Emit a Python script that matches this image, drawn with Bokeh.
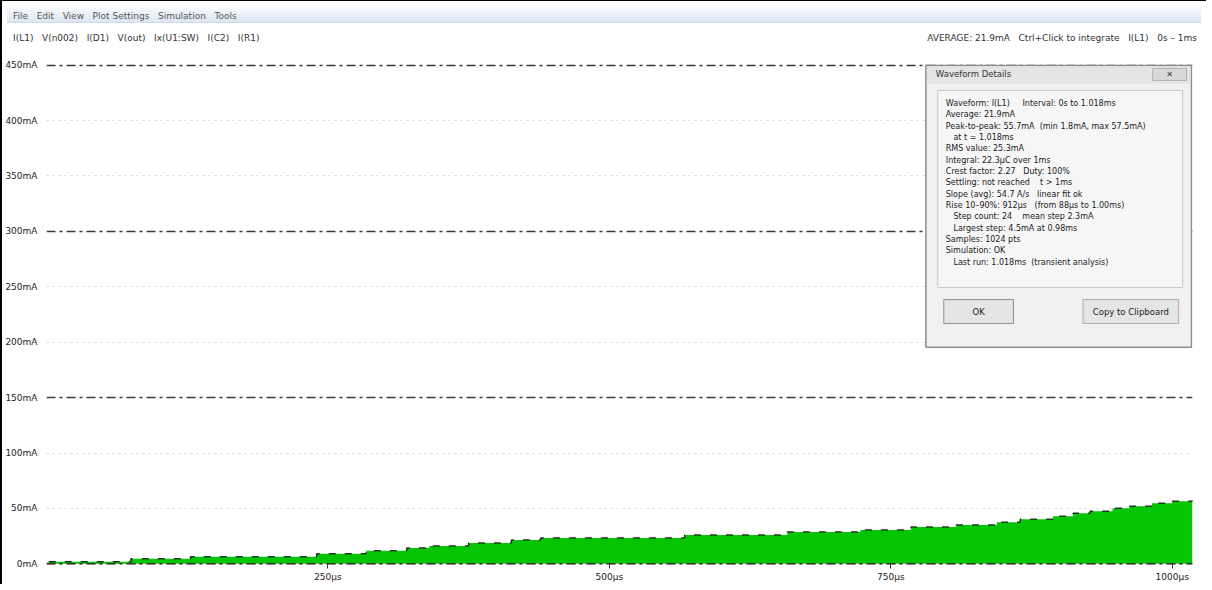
from bokeh.plotting import figure
from bokeh.models import (FixedTicker, Grid, BoxAnnotation, Label, Div, Range1d, Span)
from bokeh.layouts import column
from bokeh.embed import file_html
from bokeh.resources import INLINE

# ---- data ----
t_us = [2, 75, 128, 240, 284, 320, 340, 375, 413, 439, 567, 658, 723, 768,
        808, 844, 865, 894, 912, 927, 947, 962, 982, 1000, 1018]
i_mA = [1.8, 4.5, 6.3, 9.0, 11.7, 14.3, 16.1, 18.8, 21.5, 23.3, 26.0, 28.7,
        30.5, 33.2, 35.0, 37.6, 40.3, 43.0, 45.7, 47.5, 50.2, 52.0, 54.7, 56.5, 57.5]

y_ticks = [0, 50, 100, 150, 200, 250, 300, 350, 400, 450]
y_tick_labels = ["0mA", "50mA", "100mA", "150mA", "200mA", "250mA",
                 "300mA", "350mA", "400mA", "450mA"]
major_grid = [0, 150, 300, 450]
minor_grid = [50, 100, 200, 250, 350, 400]
x_ticks = [250, 500, 750, 1000]
x_tick_labels = ["250µs", "500µs", "750µs", "1000µs"]

menu_text = "File&nbsp;&nbsp;&nbsp;Edit&nbsp;&nbsp;&nbsp;View&nbsp;&nbsp;&nbsp;Plot Settings&nbsp;&nbsp;&nbsp;Simulation&nbsp;&nbsp;&nbsp;Tools"
trace_text = "I(L1)&nbsp;&nbsp;&nbsp;V(n002)&nbsp;&nbsp;&nbsp;I(D1)&nbsp;&nbsp;&nbsp;V(out)&nbsp;&nbsp;&nbsp;Ix(U1:SW)&nbsp;&nbsp;&nbsp;I(C2)&nbsp;&nbsp;&nbsp;I(R1)"
info_text = "AVERAGE: 21.9mA&nbsp;&nbsp;&nbsp;Ctrl+Click to integrate&nbsp;&nbsp;&nbsp;I(L1)&nbsp;&nbsp;&nbsp;0s – 1ms"

dialog_title = "Waveform Details"
dialog_lines = [
    "Waveform: I(L1)     Interval: 0s to 1.018ms",
    "Average: 21.9mA",
    "Peak-to-peak: 55.7mA  (min 1.8mA, max 57.5mA)",
    "   at t = 1.018ms",
    "RMS value: 25.3mA",
    "Integral: 22.3µC over 1ms",
    "Crest factor: 2.27   Duty: 100%",
    "Settling: not reached    t > 1ms",
    "Slope (avg): 54.7 A/s   linear fit ok",
    "Rise 10–90%: 912µs   (from 88µs to 1.00ms)",
    "   Step count: 24    mean step 2.3mA",
    "   Largest step: 4.5mA at 0.98ms",
    "Samples: 1024 pts",
    "Simulation: OK",
    "   Last run: 1.018ms  (transient analysis)",
]
button_labels = ["OK", "Copy to Clipboard"]

X0, X1 = 0.0, 1018.0
Y0, Y1 = -1.5, 451.5
FONT = "DejaVu Sans"

# frame geometry in page pixels (used only for the dialog overlay)
FL, FR, FT, FB = 48, 1200, 61, 565
def dx(px):
    return X0 + (px - FL) * (X1 - X0) / (FR - FL)
def dy(py):
    return Y0 + (FB - py) * (Y1 - Y0) / (FB - FT)
def nb(s):
    return s.replace(" ", "\u00a0")

header = Div(
    width=1194, height=45,
    text=f"""
<div style="position:relative;width:1194px;height:45px;font-family:'{FONT}';font-size:9px;color:#333;">
  <div style="position:absolute;left:0;top:2px;width:1194px;height:15px;background:linear-gradient(#f6f8fc,#dde6f3);border-bottom:1px solid #cfd8e6;">
    <span style="position:absolute;left:6px;top:2px;color:#555;">{menu_text}</span>
  </div>
  <div style="position:absolute;left:6px;top:26px;color:#333;">{trace_text}</div>
  <div style="position:absolute;right:4px;top:26px;color:#333;">{info_text}</div>
</div>""",
)

p = figure(width=1194, height=528, output_backend="svg", toolbar_location=None,
           x_range=Range1d(X0, X1), y_range=Range1d(Y0, Y1),
           min_border_left=40, min_border_right=4, min_border_top=7,
           min_border_bottom=17)
p.outline_line_color = None
p.background_fill_color = "white"
p.border_fill_color = "white"

p.varea_step(x=t_us, y1=[0] * len(t_us), y2=i_mA, step_mode="after",
             fill_color="#06c406")
p.step(x=t_us, y=i_mA, mode="after", line_color="#1e3a1e", line_width=1.5,
       line_dash="7 9")

# axes
p.yaxis.ticker = FixedTicker(ticks=y_ticks)
p.yaxis.major_label_overrides = {v: s for v, s in zip(y_ticks, y_tick_labels)}
p.xaxis.ticker = FixedTicker(ticks=x_ticks)
p.xaxis.major_label_overrides = {v: s for v, s in zip(x_ticks, x_tick_labels)}
for ax in (p.xaxis, p.yaxis):
    ax.axis_line_color = None
    ax.minor_tick_line_color = None
    ax.major_label_text_font = FONT
    ax.major_label_text_font_size = "9px"
    ax.major_label_text_color = "#222"
    ax.major_label_standoff = 3
p.yaxis.major_tick_line_color = None
p.xaxis.major_tick_line_color = "#333"
p.xaxis.major_tick_in = 2
p.xaxis.major_tick_out = 3

# grids
p.xgrid.visible = False
p.ygrid.ticker = FixedTicker(ticks=minor_grid)
p.ygrid.grid_line_color = "#d6d6d6"
p.ygrid.grid_line_dash = "2 4"
major = Grid(dimension=1, ticker=FixedTicker(ticks=major_grid),
             grid_line_color="#3a3a3a", grid_line_width=1.5,
             grid_line_dash="9 4 3 4")
p.add_layout(major)
# the zero line is drawn over the filled trace
p.add_layout(Span(location=major_grid[0], dimension="width", line_color="#3a3a3a",
                  line_width=1.5, line_dash="9 4 3 4"))

# ---- dialog overlay ----
def box(l, r, t, b, fill, line="#a9a9a9", lw=1):
    p.add_layout(BoxAnnotation(left=dx(l), right=dx(r), top=dy(t), bottom=dy(b),
                               fill_color=fill, fill_alpha=1.0,
                               line_color=line, line_width=lw, line_alpha=1.0))

box(932, 1199, 63, 346, "#f0f0f0", "#8c8c8c", 1.5)
box(933, 1198, 64, 81, "#e4e4e4", None)
box(1160, 1194, 66, 78, "#d9d9d9", "#b0b0b0")
box(944, 1190, 88, 286, "#f6f6f6", "#c6c6c6")
box(950, 1020, 298, 322, "#e5e5e5", "#8f8f8f")
box(1090, 1186, 298, 322, "#e5e5e5", "#adadad")

p.add_layout(Label(x=dx(942), y=dy(72), text=dialog_title, text_font=FONT,
                   text_font_size="8.5px", text_color="#333",
                   text_baseline="middle"))
p.add_layout(Label(x=dx(1177), y=dy(72), text="✕", text_font=FONT,
                   text_font_size="8px", text_color="#333",
                   text_baseline="middle", text_align="center"))
for k, line in enumerate(dialog_lines):
    p.add_layout(Label(x=dx(952), y=dy(101 + k * 11.4), text=nb(line),
                       text_font=FONT, text_font_size="8px", text_color="#1a1a1a",
                       text_baseline="middle"))
p.add_layout(Label(x=dx(985), y=dy(310), text=button_labels[0], text_font=FONT,
                   text_font_size="8.5px", text_color="#1a1a1a",
                   text_baseline="middle", text_align="center"))
p.add_layout(Label(x=dx(1138), y=dy(310), text=button_labels[1], text_font=FONT,
                   text_font_size="8.5px", text_color="#1a1a1a",
                   text_baseline="middle", text_align="center"))

layout = column(header, p, spacing=0,
                styles={"border-left": "2px solid #000", "border-top": "1px solid #000"})

open("out.html", "w").write(file_html(layout, INLINE))
